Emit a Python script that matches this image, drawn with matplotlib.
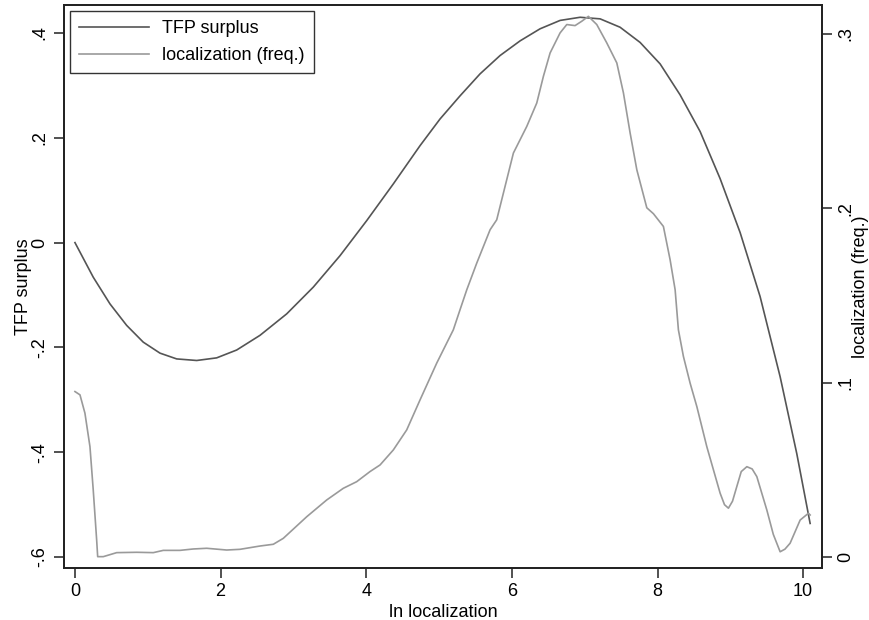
import matplotlib
matplotlib.use("Agg")
import matplotlib.pyplot as plt

plt.rcParams['font.family'] = ['Liberation Sans', 'DejaVu Sans']

# TFP surplus (left axis)
tfp_x = [0.0, 0.251, 0.481, 0.710, 0.938, 1.168, 1.397, 1.672, 1.946, 2.221,
         2.541, 2.908, 3.273, 3.640, 4.007, 4.372, 4.739, 5.014, 5.288, 5.563,
         5.838, 6.113, 6.387, 6.662, 6.937, 7.212, 7.486, 7.761, 8.036, 8.310,
         8.585, 8.860, 9.135, 9.409, 9.684, 9.913, 10.096]
tfp_y = [0.0, -0.066, -0.117, -0.158, -0.190, -0.211, -0.222, -0.225, -0.220,
         -0.205, -0.177, -0.136, -0.085, -0.025, 0.042, 0.112, 0.185, 0.236,
         0.280, 0.322, 0.357, 0.385, 0.408, 0.424, 0.430, 0.427, 0.411, 0.382,
         0.341, 0.282, 0.212, 0.122, 0.019, -0.103, -0.256, -0.403, -0.536]

# localization frequency (right axis)
loc_x = [0.0, 0.069, 0.137, 0.206, 0.251, 0.298, 0.312, 0.389, 0.573, 0.848,
         1.076, 1.213, 1.442, 1.625, 1.809, 2.084, 2.266, 2.541, 2.724, 2.861,
         3.183, 3.457, 3.685, 3.869, 4.052, 4.19, 4.372, 4.556, 4.739, 4.968,
         5.196, 5.288, 5.381, 5.518, 5.701, 5.792, 6.021, 6.205, 6.342, 6.433,
         6.525, 6.662, 6.754, 6.868, 6.960, 7.051, 7.166, 7.303, 7.441, 7.532,
         7.624, 7.716, 7.853, 7.944, 8.081, 8.173, 8.242, 8.287, 8.356, 8.448,
         8.540, 8.677, 8.860, 8.92, 8.974, 9.03, 9.089, 9.15, 9.227, 9.30, 9.364,
         9.501, 9.59, 9.684, 9.75, 9.821, 9.959, 10.073, 10.096]
loc_y = [0.0949, 0.0930, 0.0825, 0.0633, 0.0385, 0.0098, 0.0002, 0.0002, 0.0025,
         0.0027, 0.0025, 0.0038, 0.0038, 0.0046, 0.0050, 0.0040, 0.0044, 0.0063,
         0.0073, 0.0107, 0.0231, 0.0327, 0.0394, 0.0432, 0.0490, 0.0528, 0.0614,
         0.0729, 0.0901, 0.1112, 0.1303, 0.1418, 0.1533, 0.1686, 0.1877, 0.1934,
         0.2317, 0.2470, 0.2604, 0.2757, 0.2891, 0.3006, 0.3054, 0.3048, 0.3073,
         0.3101, 0.3054, 0.2949, 0.2834, 0.2662, 0.2432, 0.2221, 0.2003, 0.1969,
         0.1896, 0.1705, 0.1533, 0.1303, 0.1150, 0.0997, 0.0863, 0.0633, 0.0366,
         0.0300, 0.0280, 0.0320, 0.0404, 0.0490, 0.0518, 0.0505, 0.0461, 0.0270,
         0.0130, 0.0030, 0.0045, 0.0079, 0.0212, 0.0251, 0.0241]

left_ticks = [-0.6, -0.4, -0.2, 0, 0.2, 0.4]
left_labels = ["-.6", "-.4", "-.2", "0", ".2", ".4"]
right_ticks = [0, 0.1, 0.2, 0.3]
right_labels = ["0", ".1", ".2", ".3"]
x_ticks = [0, 2, 4, 6, 8, 10]

fs = 13
fig = plt.figure(figsize=(8.69, 6.2), dpi=100)
ax = fig.add_axes([0.0736, 0.0839, 0.8724, 0.908])
ax2 = ax.twinx()

l1, = ax.plot(tfp_x, tfp_y, color="#555555", lw=1.2, label="TFP surplus")
l2, = ax2.plot(loc_x, loc_y, color="#9a9a9a", lw=1.2, label="localization (freq.)")

ax.set_xlim(-0.151, 10.26)
ax.set_ylim(-0.621, 0.4534)
ax2.set_ylim(-0.0063, 0.3166)

ax.set_xticks(x_ticks)
ax.set_xticklabels([str(t) for t in x_ticks], fontsize=fs)
ax.set_yticks(left_ticks)
ax.set_yticklabels(left_labels, fontsize=fs, rotation=90, va="center")
ax2.set_yticks(right_ticks)
ax2.set_yticklabels(right_labels, fontsize=fs, rotation=90, va="center")

for a in (ax, ax2):
    a.tick_params(direction="out", length=7, width=1.2, color="#333333", pad=4)
    for s in a.spines.values():
        s.set_linewidth(1.3)
        s.set_color("#222222")

ax.set_xlabel("ln localization", fontsize=fs, labelpad=3)
ax.set_ylabel("TFP surplus", fontsize=fs, labelpad=0)
ax2.set_ylabel("localization (freq.)", fontsize=fs, labelpad=-2, rotation=90)

leg = ax.legend(handles=[l1, l2], loc="upper left", fontsize=fs, frameon=True,
                fancybox=False, edgecolor="black", handlelength=3.9,
                handletextpad=0.72, borderaxespad=0.35, labelspacing=0.57,
                borderpad=0.48)
leg.get_frame().set_linewidth(1.0)

fig.savefig("out.png", dpi=100)
